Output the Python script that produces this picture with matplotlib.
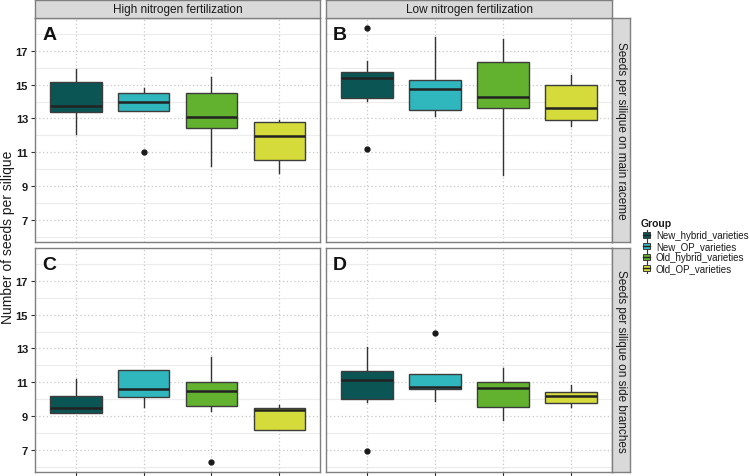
import matplotlib
matplotlib.use("Agg")
import matplotlib.pyplot as plt
from matplotlib.patches import Rectangle
import numpy as np

plt.rcParams['font.family'] = ['Liberation Sans', 'DejaVu Sans']

groups = ["New_hybrid_varieties", "New_OP_varieties", "Old_hybrid_varieties", "Old_OP_varieties"]
colors = ["#0b5654", "#30b7be", "#62b22f", "#d4db3a"]
col_titles = ["High nitrogen fertilization", "Low nitrogen fertilization"]
row_titles = ["Seeds per silique on main raceme", "Seeds per silique on side branches"]
panel_letters = ["A", "B", "C", "D"]

# per panel: [group1..group4]
A_whislo = [12.08, 13.45, 10.22, 9.78]
A_q1     = [13.39, 13.45, 12.41, 10.53]
A_med    = [13.73, 13.98, 13.10, 11.98]
A_q3     = [15.14, 14.53, 14.49, 12.80]
A_whishi = [15.94, 14.82, 15.43, 12.90]
A_fliers = [[], [11.0], [], []]

B_whislo = [14.02, 13.16, 9.67, 12.53]
B_q1     = [14.18, 13.53, 13.63, 12.90]
B_med    = [15.39, 14.76, 14.25, 13.63]
B_q3     = [15.73, 15.25, 16.33, 14.96]
B_whishi = [16.37, 17.80, 17.71, 15.59]
B_fliers = [[18.33, 11.22], [], [], []]

C_whislo = [9.17, 9.57, 9.31, 8.20]
C_q1     = [9.22, 10.14, 9.61, 8.20]
C_med    = [9.47, 10.59, 10.49, 9.37]
C_q3     = [10.20, 11.71, 11.00, 9.51]
C_whishi = [11.20, 11.73, 12.51, 9.67]
C_fliers = [[], [], [6.31], []]

D_whislo = [9.86, 9.90, 8.78, 9.57]
D_q1     = [10.04, 10.63, 9.55, 9.76]
D_med    = [11.14, 10.75, 10.69, 10.21]
D_q3     = [11.67, 11.47, 11.04, 10.43]
D_whishi = [13.06, 11.47, 11.82, 10.82]
D_fliers = [[6.92], [13.92], [], []]

panels = [
    (A_whislo, A_q1, A_med, A_q3, A_whishi, A_fliers),
    (B_whislo, B_q1, B_med, B_q3, B_whishi, B_fliers),
    (C_whislo, C_q1, C_med, C_q3, C_whishi, C_fliers),
    (D_whislo, D_q1, D_med, D_q3, D_whishi, D_fliers),
]

yticks = [7, 9, 11, 13, 15, 17]

W, H = 750, 477
fig = plt.figure(figsize=(7.5, 4.77), dpi=100)
fig.patch.set_facecolor("white")

def ax_rect(x0, y0, x1, y1):
    return [x0 / W, 1 - y1 / H, (x1 - x0) / W, (y1 - y0) / H]

xs = [(35, 320), (326, 612)]
ys = [(19, 243), (249, 473)]

# global y-limits from data with 5% expansion
allv = []
for p in panels:
    allv += p[0] + p[4]
    for f in p[5]:
        allv += f
lo, hi = min(allv), max(allv)
pad = 0.05 * (hi - lo)
ylim = (lo - pad, hi + pad)

border_col = "#7f7f7f"
strip_fill = "#d9d9d9"
box_edge = "#3c3c3c"

for i, p in enumerate(panels):
    r, c = divmod(i, 2)
    x0, x1 = xs[c]
    y0, y1 = ys[r]
    ax = fig.add_axes(ax_rect(x0, y0, x1, y1))
    whislo, q1, med, q3, whishi, fliers = p
    stats = []
    for g in range(4):
        stats.append(dict(whislo=whislo[g], q1=q1[g], med=med[g], q3=q3[g],
                          whishi=whishi[g], fliers=fliers[g]))
    pos = np.arange(1, 5)
    bp = ax.bxp(stats, positions=pos, widths=0.76, patch_artist=True, showcaps=False,
                boxprops=dict(edgecolor=box_edge, linewidth=1.0),
                medianprops=dict(color="#222222", linewidth=1.8),
                whiskerprops=dict(color="#333333", linewidth=1.0),
                flierprops=dict(marker="o", markerfacecolor="#1a1a1a", markeredgecolor="#1a1a1a",
                                markersize=3.5, linestyle="none"))
    for patch, col in zip(bp["boxes"], colors):
        patch.set_facecolor(col)
    for b in bp["boxes"]:
        b.set_zorder(3)
    for m in bp["medians"]:
        m.set_zorder(4)
    for w in bp["whiskers"]:
        w.set_zorder(2)
    ax.set_xlim(0.4, 4.6)
    ax.set_ylim(*ylim)
    ax.set_yticks(yticks)
    ax.set_yticks([6, 8, 10, 12, 14, 16, 18], minor=True)
    ax.grid(True, which="minor", axis="y", color="#ececec", linewidth=0.8, linestyle="-")
    ax.grid(True, which="major", axis="y", color="#c8c8c8", linewidth=0.9, linestyle=(0, (1, 2)))
    ax.grid(True, which="major", axis="x", color="#c8c8c8", linewidth=0.9, linestyle=(0, (1, 2)))
    ax.set_axisbelow(True)
    ax.set_xticks(pos)
    ax.tick_params(axis="y", which="minor", length=0)
    ax.tick_params(axis="both", which="major", length=3, color="#333333", width=0.8, pad=2)
    if c == 0:
        ax.set_yticklabels([str(t) for t in yticks], fontsize=8, fontweight="bold", color="#1a1a1a")
    else:
        ax.tick_params(axis="y", which="major", length=0, labelleft=False)
    ax.set_xticklabels([])
    if r == 0:
        ax.tick_params(axis="x", length=0)
    for s in ax.spines.values():
        s.set_color(border_col)
        s.set_linewidth(1.0)
    ax.text(0.025, 0.965, panel_letters[i], transform=ax.transAxes, fontsize=14,
            fontweight="bold", va="top", ha="left", color="#111111")

# strips
for c in range(2):
    x0, x1 = xs[c]
    sa = fig.add_axes(ax_rect(x0, 0.5, x1, 19))
    sa.set_facecolor(strip_fill)
    sa.set_xticks([]); sa.set_yticks([])
    for s in sa.spines.values():
        s.set_color(border_col); s.set_linewidth(1.0)
    sa.text(0.5, 0.5, col_titles[c], transform=sa.transAxes, ha="center", va="center",
            fontsize=8.5, color="#1a1a1a")
for r in range(2):
    y0, y1 = ys[r]
    sa = fig.add_axes(ax_rect(612, y0, 630, y1))
    sa.set_facecolor(strip_fill)
    sa.set_xticks([]); sa.set_yticks([])
    for s in sa.spines.values():
        s.set_color(border_col); s.set_linewidth(1.0)
    sa.text(0.5, 0.5, row_titles[r], transform=sa.transAxes, ha="center", va="center",
            rotation=-90, fontsize=8.5, color="#1a1a1a")

fig.text(8 / W, 1 - 237 / H, "Number of seeds per silique", rotation=90, ha="center", va="center",
         fontsize=10, color="#1a1a1a")

# legend (drawn in pixel coordinates)
lx0, lx1, ly0, ly1 = 634, 750, 212, 280
la = fig.add_axes(ax_rect(lx0, ly0, lx1, ly1))
la.set_xlim(lx0, lx1)
la.set_ylim(ly1, ly0)
la.axis("off")
la.text(641, 224, "Group", fontsize=7.5, fontweight="bold", va="center", ha="left", color="#1a1a1a")
for k, (g, col) in enumerate(zip(groups, colors)):
    yc = 236 + 11 * k
    la.plot([646.5, 646.5], [yc - 5, yc + 5], color="#333333", lw=0.8, zorder=1)
    la.add_patch(Rectangle((643, yc - 3), 7, 6, facecolor=col, edgecolor=box_edge, lw=0.7, zorder=2))
    la.plot([643, 650], [yc, yc], color="#222222", lw=1.0, zorder=3)
    la.text(656, yc, g, fontsize=7, va="center", ha="left", color="#1a1a1a")

fig.savefig("out.png", dpi=100)
